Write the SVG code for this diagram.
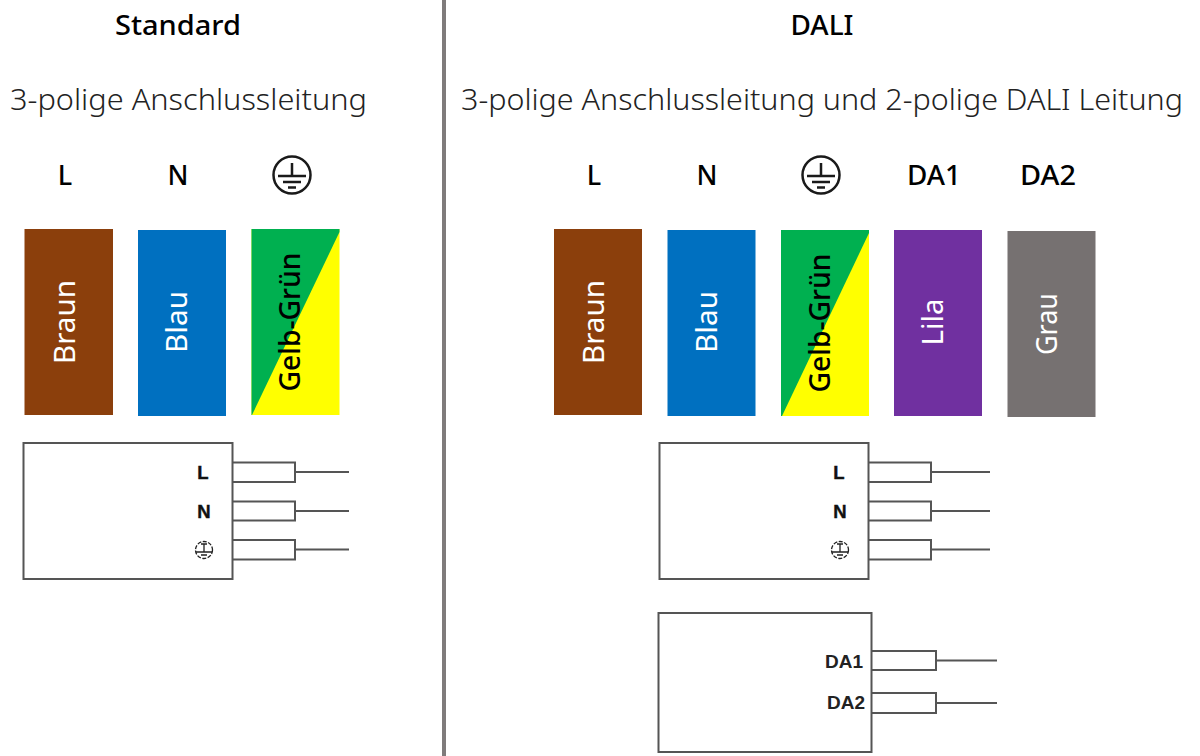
<svg xmlns="http://www.w3.org/2000/svg" width="1200" height="756" viewBox="0 0 1200 756">
<style>
text{font-family:"Noto Sans","Open Sans","DejaVu Sans",sans-serif;fill:#000}
.h{font-size:27px;font-weight:500;text-anchor:middle}
.sub{font-size:30px;font-weight:300;fill:#222}
.pole{font-size:27px;font-weight:500;text-anchor:middle}
.w{font-size:29px;fill:#fff;text-anchor:middle}
.b{fill:#000;font-weight:500}
.lb{font-family:"Liberation Sans",Arial,sans-serif;font-weight:700;font-size:18.500px;text-anchor:middle;fill:#111;stroke:#111;stroke-width:.4}
.da{font-family:"Liberation Sans",Arial,sans-serif;font-weight:700;font-size:19px;text-anchor:middle;fill:#222}
.box{fill:#fff;stroke:#555;stroke-width:2}
.wire{fill:none;stroke:#555;stroke-width:2}
.pe{fill:none;stroke:#1a1a1a;stroke-width:2.5}
.pes{fill:none;stroke:#222;stroke-width:1.300}
</style>
<defs>
<g id="pe"><circle r="18.500" class="pe"/><path class="pe" d="M0-12V1M-14 1H14M-9 7H9M-4 12.500H4"/></g>
<g id="pes"><circle r="8.500" class="pes" stroke-dasharray="4 1.500"/><path class="pes" d="M0-6V2M-8 2H8M-3 5H3M-3-6H3" stroke-width="1.600"/></g>
</defs>
<rect x="442" y="0" width="4" height="756" fill="#7f7b7b"/>
<g id="standard-heading"><text class="h" x="178" y="35" textLength="126" lengthAdjust="spacingAndGlyphs">Standard</text><text class="sub" x="10" y="110" textLength="357" lengthAdjust="spacingAndGlyphs">3-polige Anschlussleitung</text></g>
<g id="dali-heading"><text class="h" x="822" y="35" textLength="63" lengthAdjust="spacingAndGlyphs">DALI</text><text class="sub" x="461" y="110" textLength="722" lengthAdjust="spacingAndGlyphs">3-polige Anschlussleitung und 2-polige DALI Leitung</text></g>
<g id="poles-standard"><text class="pole" x="65" y="185">L</text><text class="pole" x="178" y="185">N</text><use href="#pe" x="292" y="175"/></g>
<g id="poles-dali"><text class="pole" x="594" y="185">L</text><text class="pole" x="707" y="185">N</text><use href="#pe" x="821" y="175"/><text class="pole" x="934" y="185" textLength="54" lengthAdjust="spacingAndGlyphs">DA1</text><text class="pole" x="1048" y="185" textLength="56" lengthAdjust="spacingAndGlyphs">DA2</text></g>
<g id="std-braun"><rect x="24.500" y="229" width="88.500" height="186" fill="#8b3f0c"/><text class="w" transform="translate(75 322) rotate(-90)" textLength="84" lengthAdjust="spacingAndGlyphs">Braun</text></g>
<g id="std-blau"><rect x="138" y="230" width="88" height="186" fill="#0070c0"/><text class="w" transform="translate(187 322) rotate(-90)" textLength="62" lengthAdjust="spacingAndGlyphs">Blau</text></g>
<g id="std-gelbgruen"><rect x="251.500" y="229" width="88" height="186" fill="#ffff00"/><path d="M251.500 229H339.500V232L252 415H251.500Z" fill="#00b050"/><text class="b" transform="translate(300 322) rotate(-90)" text-anchor="middle" font-size="29" textLength="139" lengthAdjust="spacingAndGlyphs">Gelb-Grün</text></g>
<g id="dali-braun"><rect x="554" y="229" width="88" height="186" fill="#8b3f0c"/><text class="w" transform="translate(604 322) rotate(-90)" textLength="84" lengthAdjust="spacingAndGlyphs">Braun</text></g>
<g id="dali-blau"><rect x="667.500" y="230" width="88" height="186" fill="#0070c0"/><text class="w" transform="translate(717 322) rotate(-90)" textLength="62" lengthAdjust="spacingAndGlyphs">Blau</text></g>
<g id="dali-gelbgruen"><rect x="781" y="230" width="88" height="186" fill="#ffff00"/><path d="M781 230H869V233L782 416H781Z" fill="#00b050"/><text class="b" transform="translate(829.500 323) rotate(-90)" text-anchor="middle" font-size="29" textLength="139" lengthAdjust="spacingAndGlyphs">Gelb-Grün</text></g>
<g id="dali-lila"><rect x="894" y="230" width="88" height="186" fill="#7030a0"/><text class="w" transform="translate(943 322) rotate(-90)" textLength="47" lengthAdjust="spacingAndGlyphs">Lila</text></g>
<g id="dali-grau"><rect x="1007.500" y="231" width="88" height="186" fill="#767171"/><text class="w" transform="translate(1057 324) rotate(-90)" textLength="62" lengthAdjust="spacingAndGlyphs">Grau</text></g>
<g id="connectors">
<path class="wire" d="M233 462.500H295V482H233M295 472H349M233 501.500H295V520.500H233M295 511H349M233 540H295V559.500H233M295 549.500H349"/>
<path class="wire" d="M869 462.500H931V482H869M931 472H990M869 501.500H931V520.500H869M931 511H990M869 540H931V559.500H869M931 549.500H990"/>
<path class="wire" d="M872 651H936V670H872M936 660.500H997M872 693H936V713H872M936 703H997"/>
</g>
<g id="driver-standard"><rect class="box" x="23.500" y="443" width="209" height="136"/><text class="lb" x="203" y="479">L</text><text class="lb" x="204" y="518">N</text><use href="#pes" x="204" y="550"/></g>
<g id="driver-dali"><rect class="box" x="659.500" y="443" width="209" height="136"/><text class="lb" x="839" y="479">L</text><text class="lb" x="840" y="518">N</text><use href="#pes" x="840" y="550"/></g>
<g id="driver-da"><rect class="box" x="658.500" y="613" width="213" height="139"/><text class="da" x="844" y="668">DA1</text><text class="da" x="846" y="709">DA2</text></g>
</svg>
